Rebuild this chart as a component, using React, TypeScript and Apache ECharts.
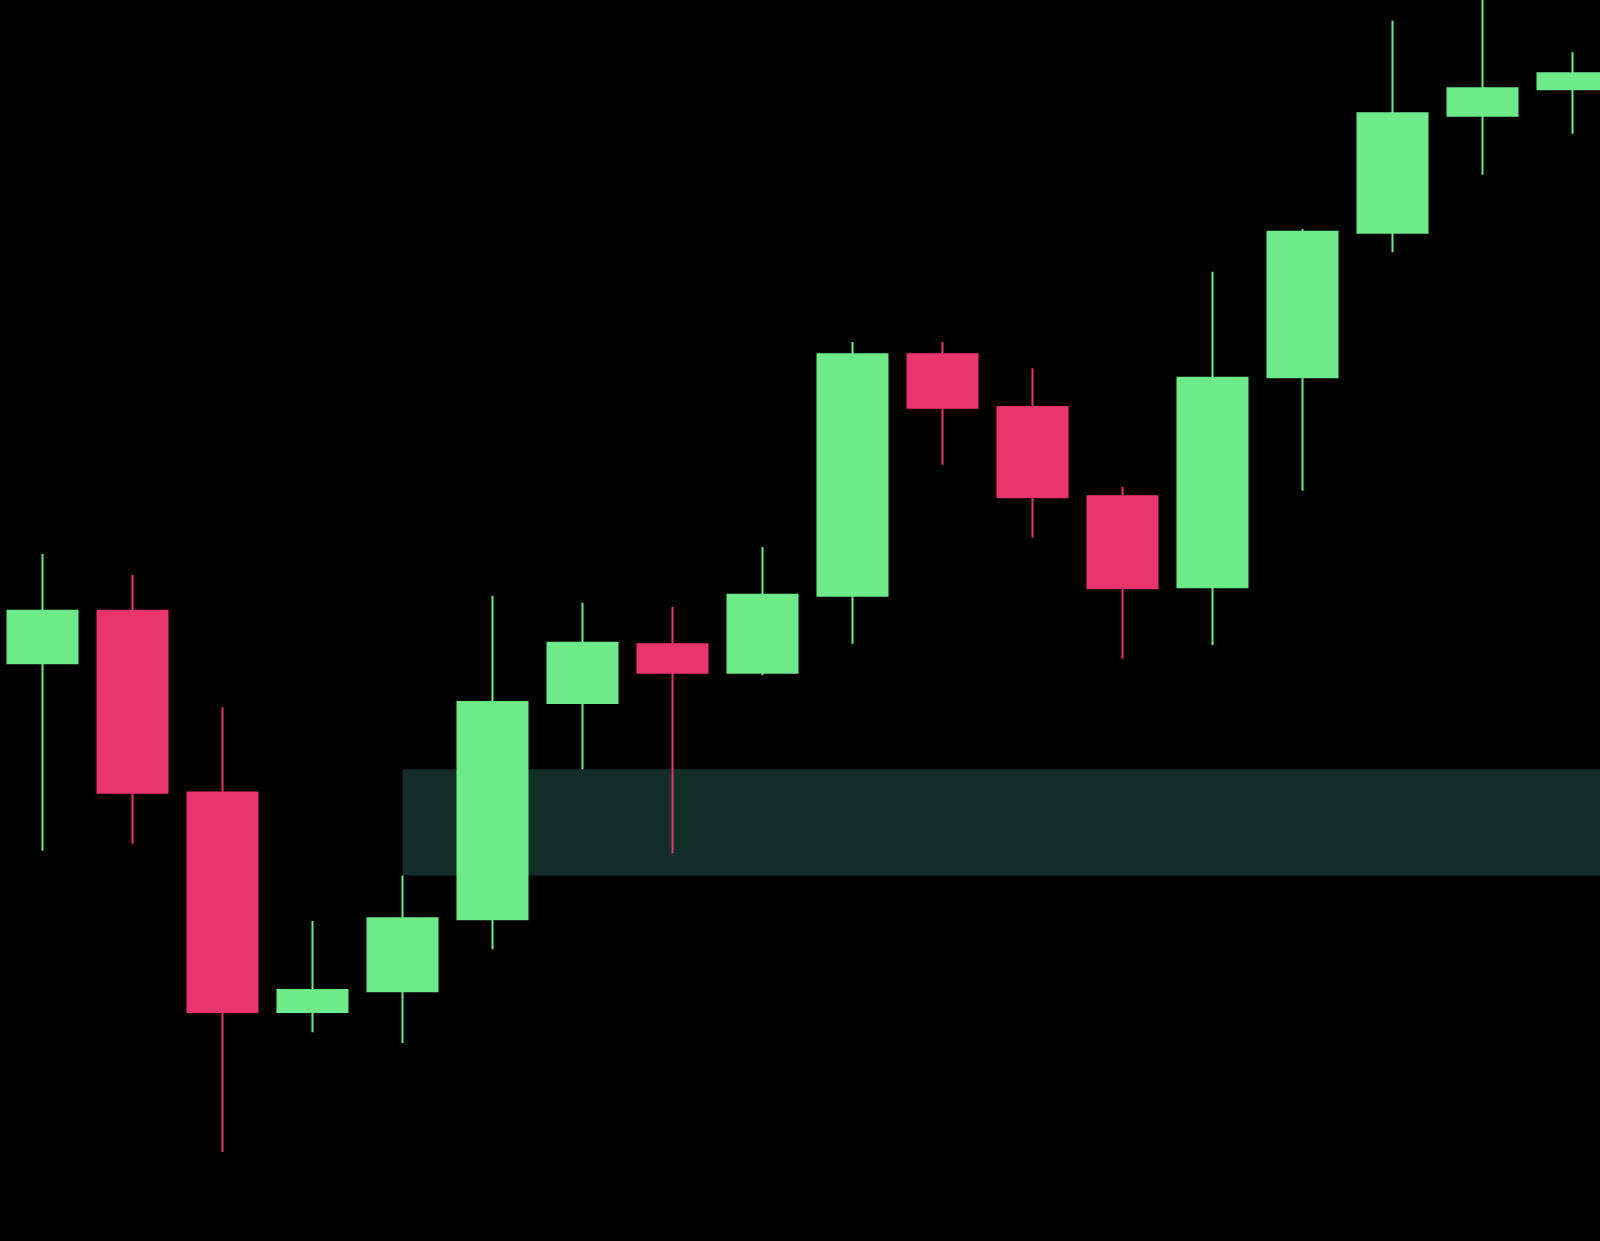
import React, { useEffect, useRef } from "react";
import * as echarts from "echarts";

// Candles: [open, close, low, high]
const categories = [
  "C1", "C2", "C3", "C4", "C5", "C6", "C7", "C8", "C9",
  "C10", "C11", "C12", "C13", "C14", "C15", "C16", "C17", "C18",
];
const opens = [157.77, 163.03, 144.85, 122.9, 124.97, 132.17, 153.8, 159.67, 156.83, 164.53, 188.67, 183.4, 174.47, 165.37, 186.37, 200.83, 212.53, 215.17];
const closes = [163.03, 144.83, 122.9, 125.1, 132.27, 153.9, 159.83, 156.83, 164.63, 188.67, 183.33, 174.37, 165.27, 186.33, 200.93, 212.77, 215.27, 216.77];
const lows = [139.03, 139.73, 108.9, 120.87, 119.8, 129.17, 147.17, 138.77, 156.57, 159.73, 177.63, 170.33, 158.23, 159.6, 175.03, 198.87, 206.63, 210.73];
const highs = [168.7, 166.6, 153.38, 132.0, 136.55, 164.53, 163.83, 163.4, 169.4, 189.9, 189.9, 187.27, 175.4, 196.93, 201.2, 222.03, 224.6, 218.87];

// Fair value gap zone: starts at candle 5, from candle 5 high to candle 7 low
const zoneStartIndex = 4;
const zoneTop = 147.17;
const zoneBottom = 136.55;

const yMin = 100;
const yMax = 224.1;

const GREEN = "#6fea8a";
const RED = "#ea356c";
const ZONE = "#132d28";

export default function App() {
  const ref = useRef<HTMLDivElement>(null);

  useEffect(() => {
    if (!ref.current) return;
    const chart = echarts.init(ref.current, undefined, { renderer: "svg" });
    const candleData = categories.map((_, i) => [opens[i], closes[i], lows[i], highs[i]]);

    chart.setOption({
      animation: false,
      backgroundColor: "#000000",
      grid: {
        left: -2.3,
        top: 0,
        width: 1620,
        height: 1241,
        containLabel: false,
        outerBoundsMode: "none",
      },
      xAxis: {
        type: "category",
        data: categories,
        boundaryGap: true,
        show: false,
      },
      yAxis: {
        type: "value",
        min: yMin,
        max: yMax,
        show: false,
        splitLine: { show: false },
      },
      series: [
        {
          type: "custom",
          z: 1,
          silent: true,
          renderItem: (params: any, api: any) => {
            const p1 = api.coord([zoneStartIndex, zoneTop]);
            const p2 = api.coord([zoneStartIndex, zoneBottom]);
            const cs = params.coordSys;
            return {
              type: "rect",
              shape: {
                x: p1[0],
                y: p1[1],
                width: cs.x + cs.width - p1[0],
                height: p2[1] - p1[1],
              },
              style: { fill: ZONE },
            };
          },
          data: [[zoneStartIndex, zoneTop, zoneBottom]],
          clip: false,
        },
        {
          type: "candlestick",
          z: 2,
          data: candleData,
          barWidth: 70,
          itemStyle: {
            color: GREEN,
            color0: RED,
            borderColor: GREEN,
            borderColor0: RED,
            borderWidth: 2,
          },
        },
      ],
    });
    return () => chart.dispose();
  }, []);

  return (
    <div
      ref={ref}
      style={{ width: 1600, height: 1241, position: "absolute", left: 0, top: 0, background: "#000" }}
    />
  );
}
